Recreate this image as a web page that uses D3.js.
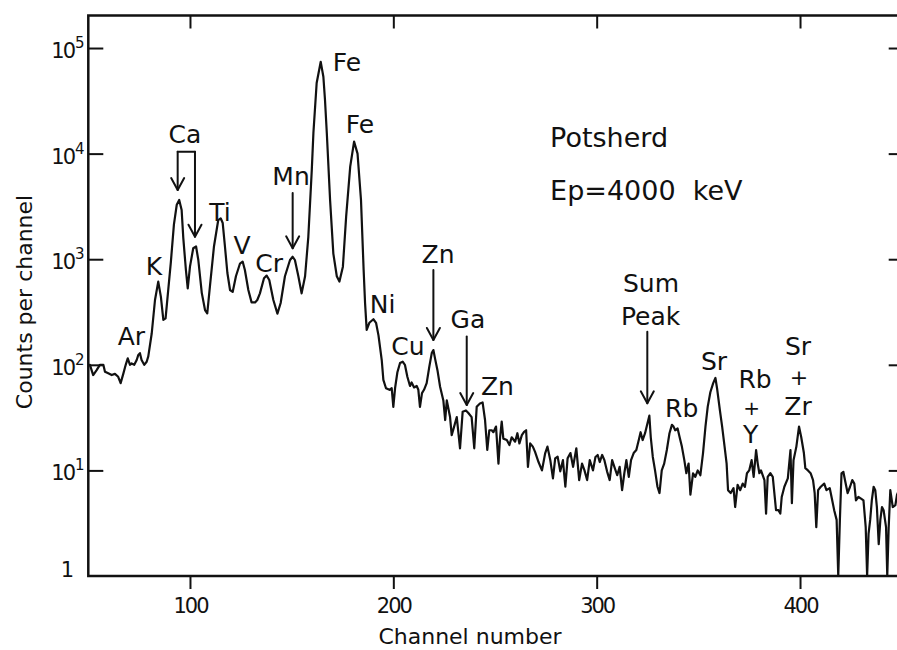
<!DOCTYPE html>
<html>
<head>
<meta charset="utf-8">
<script src="https://cdn.jsdelivr.net/npm/d3@7"></script>
<style>
  html, body { margin: 0; padding: 0; background: #fff; }
  svg { display: block; font-family: "DejaVu Sans", sans-serif; }
</style>
</head>
<body>
<svg id="chart" width="897" height="650"></svg>
<script>
// PIXE spectrum of a potsherd, Ep = 4000 keV (counts per channel, log scale)
const channel = [
  50.8, 52.4, 54.1, 55.7, 57.4, 58.2, 59.8, 61.5, 63.1, 64.7, 65.9, 67.2, 68.4, 69.4, 70.5, 71.3,
  72.6, 73.8, 74.6, 75.4, 76.2, 77.5, 78.7, 79.5, 81.2, 82.8, 84.4, 85.7, 86.9, 88.0, 89.3, 90.6,
  92.1, 93.5, 94.7, 95.9, 96.7, 98.0, 98.9, 100.0, 101.6, 103.0, 104.1, 105.8, 107.4, 108.5, 109.8,
  111.8, 113.9, 115.1, 116.1, 117.2, 118.4, 119.7, 121.0, 122.6, 124.6, 125.9, 127.0, 128.7, 130.3,
  132.0, 133.1, 134.4, 136.4, 137.7, 139.0, 141.0, 143.0, 144.6, 146.7, 149.2, 150.5, 151.6, 153.3,
  154.9, 156.6, 158.2, 159.9, 160.7, 162.3, 164.3, 165.6, 166.4, 167.3, 168.9, 170.5, 172.2, 173.5,
  175.2, 176.8, 178.8, 180.7, 182.4, 184.1, 185.4, 186.1, 186.9, 188.2, 190.2, 191.5, 192.7, 194.3,
  195.1, 196.4, 198.1, 199.2, 200.0, 200.9, 202.0, 203.3, 204.6, 205.7, 206.9, 208.2, 209.0, 210.2,
  211.5, 212.3, 213.1, 214.1, 215.1, 216.4, 217.7, 218.9, 219.7, 220.5, 221.7, 223.0, 224.6, 225.5,
  226.3, 227.9, 228.7, 229.9, 231.2, 232.8, 234.1, 235.7, 236.9, 238.5, 239.8, 241.0, 242.6, 243.9,
  245.1, 246.2, 247.2, 248.4, 249.2, 250.5, 251.7, 252.5, 253.3, 254.1, 255.8, 257.1, 258.2, 259.9,
  261.0, 262.0, 263.2, 264.3, 265.3, 266.2, 267.3, 268.6, 269.7, 271.4, 273.1, 274.7, 275.8, 277.2,
  278.5, 279.6, 280.8, 282.1, 283.4, 284.6, 285.7, 287.1, 288.4, 290.0, 291.4, 292.8, 294.0, 295.3,
  296.6, 298.2, 299.4, 300.5, 301.5, 302.7, 303.8, 305.1, 306.4, 307.6, 308.7, 310.1, 311.3, 312.5,
  313.6, 314.6, 315.8, 316.9, 318.2, 319.5, 320.7, 321.6, 322.6, 323.8, 324.6, 325.9, 326.6, 327.6,
  328.7, 329.9, 330.9, 332.0, 333.2, 334.5, 335.8, 337.0, 337.8, 338.6, 339.8, 340.8, 341.9, 343.1,
  344.1, 345.2, 346.1, 347.4, 348.5, 349.7, 351.0, 352.3, 353.5, 354.6, 355.9, 357.3, 358.4, 359.3,
  360.6, 361.7, 362.9, 363.9, 364.6, 365.9, 367.3, 368.1, 369.3, 370.6, 371.8, 372.9, 373.9, 375.0,
  376.2, 377.2, 378.4, 379.2, 380.0, 380.8, 382.5, 383.3, 384.1, 385.4, 386.6, 388.2, 389.4, 390.3,
  391.0, 392.3, 394.0, 395.3, 396.0, 396.8, 398.2, 399.5, 400.6, 401.9, 402.6, 403.9, 405.2, 406.4,
  407.2, 408.0, 408.9, 410.2, 411.9, 413.0, 414.6, 415.5, 416.8, 418.0, 418.8, 419.6, 420.4, 421.3,
  422.1, 423.4, 424.6, 425.7, 426.7, 427.5, 428.7, 430.0, 431.2, 432.3, 433.0, 433.7, 434.5, 435.3,
  436.2, 437.0, 437.8, 438.7, 439.5, 440.3, 441.1, 442.3, 442.9, 443.6, 444.4, 445.6, 446.9, 447.7,
  448.7
];
const counts = [
  100, 80, 89, 100, 100, 86, 83, 80, 82, 77, 67, 82, 100, 115, 100, 103,
  100, 111, 124, 129, 111, 100, 107, 120, 199, 411, 614, 440, 266, 275, 510, 940,
  2130, 3280, 3640, 2925, 1600, 790, 530, 850, 1270, 1320, 983, 480, 330, 307, 550,
  1320, 2350, 2440, 2200, 1320, 740, 511, 490, 690, 910, 950, 790, 511, 390,
  390, 411, 475, 660, 700, 635, 411, 305, 385, 690, 983, 1055, 983, 690,
  475, 690, 1630, 7000, 15700, 46600, 74000, 53500, 32200, 15500, 3640, 1130, 690, 614,
  850, 2530, 7530, 13000, 10000, 3640, 790, 385, 214, 250, 270, 250, 190, 111,
  72, 60, 58, 60, 40, 61, 85, 104, 107, 100, 77, 63, 68, 61,
  63, 58, 40, 54, 58, 67, 96, 129, 138, 115, 89, 62, 46, 30,
  46, 32, 21.6, 26, 32, 16.2, 36, 37, 35, 32, 16.2, 40, 43, 44,
  30, 15.6, 24, 24, 23, 26, 11.6, 20.6, 29, 20, 19.4, 17.4, 20.6, 18.7,
  22.5, 18, 21.6, 23.2, 24, 10.8, 18, 16.8, 15, 12, 10, 14.6, 16.8, 12.5,
  8.4, 13, 13.5, 9.8, 12.5, 7, 13, 14.6, 10.8, 16.2, 8.1, 11.6, 10, 8.1,
  12.5, 10, 13.4, 14, 12, 14, 12.5, 9.8, 8.1, 12.5, 10.8, 9, 10.8, 6.5,
  9.4, 12.5, 8.7, 12.5, 14.6, 15.6, 19.4, 23, 19.4, 22.5, 26, 33, 20.6, 13.4,
  10, 7, 6.1, 10, 11.6, 15.6, 22.5, 27, 26, 24, 25, 20.6, 16.8, 12.5,
  9.4, 11.6, 5.9, 9.4, 8.7, 10, 9, 14.6, 26, 40, 55, 67, 75, 58,
  37, 26, 16.8, 11.6, 6.5, 6.1, 6.8, 4.5, 7.3, 6.5, 7.5, 7, 9.4, 10,
  12.5, 8.7, 15.6, 11.6, 9.4, 10, 8.1, 3.9, 8.7, 9.4, 8.7, 4.2, 4.2, 3.9,
  5.6, 7, 8.4, 15.6, 4.9, 12.5, 16.8, 26, 20.6, 14.6, 10.5, 10, 9.4, 8.1,
  6.1, 2.9, 6.5, 7, 7.5, 6.5, 6.8, 5.6, 4.2, 3.4, 1, 3.4, 9.4, 9.7,
  8.1, 6.1, 7, 8.1, 7.5, 5.2, 5.6, 5.4, 5.2, 2.9, 1, 2.5, 3.4, 5.2,
  7, 6.5, 4.5, 2.0, 3.4, 4.5, 4.2, 2.9, 1, 2.9, 6.5, 4.5, 4.7, 5.9,
  6.5
];

// Axis ticks
const xTickValues = [100, 200, 300, 400];
const yTickValues = [10, 100, 1000, 10000, 100000];
const yLabelValues = [1, 10, 100, 1000, 10000, 100000];

// Element labels: text, channel of the label centre, count at its baseline, font size
const labelText    = ["Ar", "K", "Ca", "Ti", "V", "Cr", "Mn", "Fe", "Fe", "Ni", "Cu", "Zn", "Ga", "Zn",
                      "Sum", "Peak", "Rb", "Sr", "Rb", "+", "Y", "Sr", "+", "Zr"];
const labelChannel = [71.2, 82.3, 97.5, 114.8, 125.6, 138.9, 149.7, 177.2, 183.6, 194.7, 207.2, 222.0, 236.7, 251.2,
                      326.7, 326.5, 341.8, 357.7, 377.9, 376.2, 375.7, 399.0, 399.5, 399.0];
const labelCount   = [154, 708, 12600, 2290, 1120, 757, 5000, 60600, 15700, 310, 124, 920, 223, 51.8,
                      489, 238, 32.3, 89.3, 60, 33.8, 18.2, 124, 64, 33.5];
const labelSize    = [25, 25, 25, 25, 25, 25, 25, 25, 25, 25, 25, 25, 25, 25,
                      25, 25, 25, 25, 25, 20, 25, 25, 22, 25];

// Arrows pointing at peaks: channel, count at the tail, count at the tip
const arrowChannel = [93.95, 102.46, 150.5, 219.7, 236.1, 324.9];
const arrowTail    = [10430, 10430, 4236, 790, 185, 206];
const arrowTip     = [4520, 1633, 1268, 172, 41.6, 43.2];
// Bracket joining the two Ca arrows
const bracketChannels = [93.95, 102.46];
const bracketCount = 10430;

// Sample and beam description
const infoText    = ["Potsherd", "Ep=4000  keV"];
const infoChannel = [277.1, 277.1];
const infoCount   = [11540, 3640];

const svg = d3.select("#chart");

const x = d3.scaleLinear().domain([50, 450]).range([88.3, 901.7]);
const y = d3.scaleLog().domain([1, Math.pow(10, 5.308)]).range([576, 15.5]);

const ink = "#111";

// Frame
svg.append("rect")
  .attr("x", x(50)).attr("y", y.range()[1])
  .attr("width", x(450) - x(50)).attr("height", y(1) - y.range()[1])
  .attr("fill", "none").attr("stroke", ink).attr("stroke-width", 2.5);

function styleAxis(g) {
  g.select(".domain").remove();
  g.selectAll(".tick line").attr("stroke", ink).attr("stroke-width", 2);
}

// Bottom axis: outward ticks with labels
svg.append("g")
  .attr("transform", `translate(0,${y(1)})`)
  .call(d3.axisBottom(x).tickValues(xTickValues).tickSizeInner(13).tickSizeOuter(0).tickPadding(9))
  .call(styleAxis)
  .call(g => g.selectAll(".tick text")
    .attr("fill", ink).attr("font-size", 21).attr("letter-spacing", -2)
    .attr("font-family", "DejaVu Sans, sans-serif"));

// Top axis: inward ticks
svg.append("g")
  .attr("transform", `translate(0,${y.range()[1]})`)
  .call(d3.axisTop(x).tickValues(xTickValues).tickSizeInner(-13).tickSizeOuter(0).tickFormat(""))
  .call(styleAxis);

// Left axis: inward ticks
svg.append("g")
  .attr("transform", `translate(${x(50)},0)`)
  .call(d3.axisLeft(y).tickValues(yTickValues).tickSizeInner(-15).tickSizeOuter(0).tickFormat(""))
  .call(styleAxis);

// Right axis: inward ticks
svg.append("g")
  .attr("transform", `translate(${x(450)},0)`)
  .call(d3.axisRight(y).tickValues(yTickValues).tickSizeInner(-13).tickSizeOuter(0).tickFormat(""))
  .call(styleAxis);

// Y tick labels as powers of ten
const yLab = svg.append("g").attr("fill", ink);
yLabelValues.forEach(v => {
  const e = Math.round(Math.log10(v));
  const ty = y(v);
  if (e === 0) {
    yLab.append("text").attr("x", 74).attr("y", ty + 1)
      .attr("text-anchor", "end").attr("font-size", 21).text("1");
  } else {
    yLab.append("text").attr("x", 74).attr("y", ty + 10)
      .attr("text-anchor", "end").attr("font-size", 21).attr("letter-spacing", -2).text("10");
    yLab.append("text").attr("x", 75).attr("y", ty)
      .attr("text-anchor", "start").attr("font-size", 15).text(e);
  }
});

// Axis titles
svg.append("text")
  .attr("x", (x(50) + x(450)) / 2 - 25).attr("y", 644)
  .attr("text-anchor", "middle").attr("font-size", 22).attr("fill", ink)
  .text("Channel number");

svg.append("text")
  .attr("transform", "translate(32,302) rotate(-90)")
  .attr("text-anchor", "middle").attr("font-size", 22).attr("fill", ink)
  .text("Counts per channel");

// Spectrum
const line = d3.line()
  .x(i => x(channel[i]))
  .y(i => y(counts[i]));

svg.append("path")
  .datum(d3.range(channel.length))
  .attr("d", line)
  .attr("fill", "none")
  .attr("stroke", ink)
  .attr("stroke-width", 2.2)
  .attr("stroke-linejoin", "round")
  .attr("stroke-linecap", "round");

// Arrows
const arrows = svg.append("g").attr("stroke", ink).attr("stroke-width", 2)
  .attr("fill", "none").attr("stroke-linecap", "round").attr("stroke-linejoin", "round");
arrowChannel.forEach((c, i) => {
  const ax = x(c), y0 = y(arrowTail[i]), y1 = y(arrowTip[i]);
  arrows.append("line").attr("x1", ax).attr("x2", ax).attr("y1", y0).attr("y2", y1);
  arrows.append("polyline")
    .attr("points", `${ax - 6.5},${y1 - 12} ${ax},${y1} ${ax + 6.5},${y1 - 12}`);
});
arrows.append("line")
  .attr("x1", x(bracketChannels[0])).attr("x2", x(bracketChannels[1]))
  .attr("y1", y(bracketCount)).attr("y2", y(bracketCount));

// Element labels
svg.append("g").attr("fill", ink).attr("text-anchor", "middle")
  .selectAll("text")
  .data(labelText)
  .join("text")
  .attr("x", (d, i) => x(labelChannel[i]))
  .attr("y", (d, i) => y(labelCount[i]))
  .attr("font-size", (d, i) => labelSize[i])
  .text(d => d);

// Sample description
svg.append("g").attr("fill", ink).attr("font-size", 27)
  .selectAll("text")
  .data(infoText)
  .join("text")
  .style("white-space", "pre")
  .attr("x", (d, i) => x(infoChannel[i]))
  .attr("y", (d, i) => y(infoCount[i]))
  .text(d => d);
</script>
</body>
</html>
